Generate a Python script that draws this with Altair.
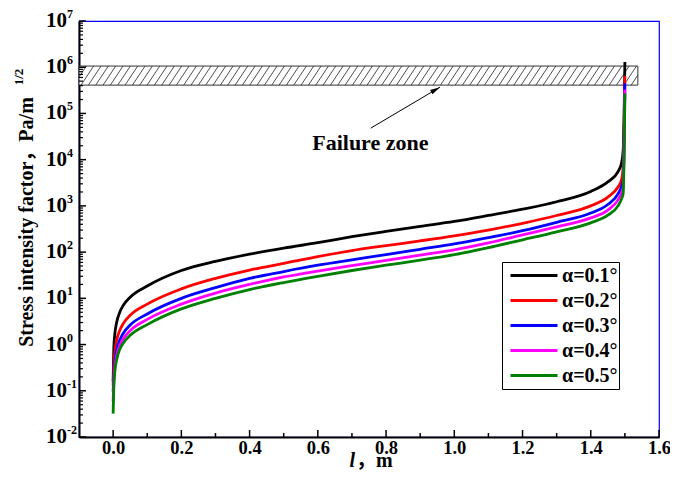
import altair as alt
import pandas as pd
import numpy as np

# ---------------- data ----------------
x_vals = [0.0, 0.002, 0.005, 0.01, 0.02, 0.03, 0.05, 0.1, 0.2, 0.3, 0.4, 0.5, 0.6, 0.7,
          0.8, 0.9, 1.0, 1.1, 1.2, 1.3, 1.4, 1.45, 1.48, 1.49, 1.495, 1.5]
k_01 = [0.16, 0.81, 1.68, 2.93, 5.1, 7.1, 10.6, 18.5, 40, 63, 90, 122, 160, 215, 280, 360,
        460, 620, 850, 1230, 2050, 3300, 5500, 8300, 16000, 1.3e6]
k_02 = [0.13, 0.33, 0.68, 1.19, 2.07, 2.87, 4.3, 7.5, 16, 27, 41, 57, 80, 108, 138, 175,
        225, 300, 420, 620, 1000, 1550, 2570, 3600, 7000, 6.5e5]
k_03 = [0.095, 0.20, 0.42, 0.73, 1.27, 1.76, 2.64, 4.6, 10, 17, 27, 38, 52, 68, 88, 115,
        150, 205, 290, 440, 700, 1070, 1820, 2600, 3600, 4.5e5]
k_04 = [0.058, 0.155, 0.32, 0.56, 0.97, 1.34, 2.0, 3.5, 7.5, 13, 20, 29, 39, 51, 66, 86,
        112, 158, 235, 350, 550, 813, 1350, 1900, 2570, 3.3e5]
k_05 = [0.032, 0.12, 0.26, 0.46, 0.8, 1.08, 1.58, 2.7, 5.9, 10, 15.5, 22, 30, 40, 52, 67,
        88, 125, 185, 275, 430, 631, 1000, 1400, 1860, 2.7e5]

series_labels = ["α=0.1°", "α=0.2°", "α=0.3°", "α=0.4°", "α=0.5°"]
series_colors = ["#000000", "#ff0000", "#0000ff", "#ff00ff", "#008000"]
series_values = [k_01, k_02, k_03, k_04, k_05]

x_ticks_major = [0.0, 0.2, 0.4, 0.6, 0.8, 1.0, 1.2, 1.4, 1.6]
x_ticks_minor = [0.1, 0.3, 0.5, 0.7, 0.9, 1.1, 1.3, 1.5]
y_exponents = [-2, -1, 0, 1, 2, 3, 4, 5, 6, 7]

# failure zone band and annotation
band_x = [-0.1, 1.538]
band_y = [4.1e5, 1.06e6]
arrow_x = [0.755, 0.958]
arrow_y = [4.8e4, 3.7e5]
note_x = [0.754]
note_y = [2.3e4]
note_text = ["Failure zone"]

FONT = "Liberation Serif, Noto Sans CJK SC"
W, H = 580, 416

# ---------------- tables ----------------
rows = []
for lab, vals in zip(series_labels, series_values):
    for xv, yv in zip(x_vals, vals):
        rows.append({"x": xv, "y": yv, "series": lab})
df = pd.DataFrame(rows)

xscale = alt.Scale(domain=[-0.1, 1.6], nice=False, zero=False)
yscale = alt.Scale(type="log", domain=[1e-2, 1e7], nice=False)

# hatch lines inside band (decoration)
step, run = 0.0215, 0.037
ly0, ly1 = np.log10(band_y[0]), np.log10(band_y[1])
hrows = []
xb = band_x[0] - run
while xb < band_x[1]:
    t0 = max(0.0, (band_x[0] - xb) / run)
    t1 = min(1.0, (band_x[1] - xb) / run)
    if t1 > t0:
        hrows.append({"x": xb + t0 * run, "x2": xb + t1 * run,
                      "y": 10 ** (ly0 + t0 * (ly1 - ly0)),
                      "y2": 10 ** (ly0 + t1 * (ly1 - ly0))})
    xb += step
hdf = pd.DataFrame(hrows)

band_df = pd.DataFrame({"x": [band_x[0]], "x2": [band_x[1]], "y": [band_y[0]], "y2": [band_y[1]]})
arrow_df = pd.DataFrame({"x": [arrow_x[0]], "x2": [arrow_x[1]], "y": [arrow_y[0]], "y2": [arrow_y[1]]})
head_df = pd.DataFrame({"x": [arrow_x[1]], "y": [arrow_y[1]]})
note_df = pd.DataFrame({"x": note_x, "y": note_y, "t": note_text})

xt_major = pd.DataFrame({"x": x_ticks_major})
xt_minor = pd.DataFrame({"x": x_ticks_minor})
yt_major = pd.DataFrame({"y": [10.0 ** e for e in y_exponents]})
yt_minor = pd.DataFrame({"y": [k * 10.0 ** e for e in y_exponents[:-1] for k in range(2, 10)]})
ylab = pd.DataFrame({"y": [10.0 ** e for e in y_exponents],
                     "base": ["10"] * len(y_exponents),
                     "exp": [str(e) for e in y_exponents]})

# ---------------- layers ----------------
X = lambda **kw: alt.X("x:Q", scale=xscale, **kw)
Y = lambda **kw: alt.Y("y:Q", scale=yscale, **kw)

band = alt.Chart(band_df).mark_rect(fill="white", stroke="#333333", strokeWidth=1).encode(
    x=X(axis=alt.Axis(values=x_ticks_major, format=".1f", labelFont=FONT, labelFontSize=18.5,
                      labelFontWeight="bold", labelColor="black", ticks=False, title=None,
                      domainColor="black", domainWidth=2, grid=False, labelPadding=1,
                      labelFlush=False, labelOverlap=False)),
    x2="x2:Q",
    y=Y(axis=alt.Axis(labels=False, ticks=False, title=None, domainColor="black",
                      domainWidth=2, grid=False)),
    y2="y2:Q",
)

hatch = alt.Chart(hdf).mark_rule(color="#222222", strokeWidth=0.8).encode(
    x=X(), x2="x2:Q", y=Y(), y2="y2:Q")

arrow = alt.Chart(arrow_df).mark_rule(color="black", strokeWidth=1).encode(
    x=X(), x2="x2:Q", y=Y(), y2="y2:Q")

head = alt.Chart(head_df).mark_point(
    shape="M0,0L0.5,2L-0.5,2Z", filled=True, color="black", size=100, angle=60, opacity=1
).encode(x=X(), y=Y())

note = alt.Chart(note_df).mark_text(font=FONT, fontSize=22, fontWeight="bold",
                                    color="black", align="center", baseline="middle").encode(
    x=X(), y=Y(), text="t:N")

lines = alt.Chart(df).mark_line(strokeWidth=2.8, interpolate="monotone").encode(
    x=X(), y=Y(),
    color=alt.Color("series:N",
                    scale=alt.Scale(domain=series_labels, range=series_colors),
                    legend=alt.Legend(title=None, orient="none", legendX=423, legendY=241,
                                      symbolType="stroke", symbolSize=2209,
                                      symbolStrokeWidth=3, clipHeight=25,
                                      labelFont=FONT, labelFontSize=20,
                                      labelFontWeight="bold", labelColor="black",
                                      labelOffset=3, padding=1, symbolOffset=6,
                                      strokeColor="black", fillColor="white",
                                      rowPadding=0)),
    order=alt.Order("x:Q"),
)

xtM = alt.Chart(xt_major).mark_rule(color="black", strokeWidth=1.5).encode(
    x=X(), y=alt.value(H), y2=alt.value(H - 7))
xtm = alt.Chart(xt_minor).mark_rule(color="black", strokeWidth=1.5).encode(
    x=X(), y=alt.value(H), y2=alt.value(H - 4))
ytM = alt.Chart(yt_major).mark_rule(color="black", strokeWidth=1.5).encode(
    y=Y(), x=alt.value(0), x2=alt.value(7))
ytm = alt.Chart(yt_minor).mark_rule(color="black", strokeWidth=1.2).encode(
    y=Y(), x=alt.value(0), x2=alt.value(4))

ylab_base = alt.Chart(ylab).mark_text(font=FONT, fontSize=21, fontWeight="bold", color="black",
                                      align="right", baseline="middle").encode(
    y=Y(), x=alt.value(-12), text="base:N")
ylab_exp = alt.Chart(ylab).mark_text(font=FONT, fontSize=12, fontWeight="bold", color="black",
                                     align="left", baseline="middle", dy=-7).encode(
    y=Y(), x=alt.value(-12), text="exp:N")

ytitle = alt.Chart(pd.DataFrame({"t": ["Stress intensity factor，Pa/m"]})).mark_text(
    font=FONT, fontSize=20, fontWeight="bold", color="black", angle=270,
    align="center", baseline="middle").encode(
    x=alt.value(-52), y=alt.value(201), text="t:N")
ytitle_sup = alt.Chart(pd.DataFrame({"t": ["1/2"]})).mark_text(
    font=FONT, fontSize=13, fontWeight="bold", color="black", angle=270,
    align="center", baseline="middle").encode(
    x=alt.value(-60), y=alt.value(56), text="t:N")

xtitle_l = alt.Chart(pd.DataFrame({"t": ["l"]})).mark_text(
    font=FONT, fontSize=20, fontWeight="bold", fontStyle="italic", color="black",
    align="right", baseline="alphabetic").encode(x=alt.value(276), y=alt.value(446), text="t:N")
xtitle_m = alt.Chart(pd.DataFrame({"t": ["，m"]})).mark_text(
    font=FONT, fontSize=20, fontWeight="bold", color="black",
    align="left", baseline="alphabetic").encode(x=alt.value(277), y=alt.value(446), text="t:N")

chart = alt.layer(
    band, hatch, arrow, head, note, lines, xtM, xtm, ytM, ytm,
    ylab_base, ylab_exp, ytitle, ytitle_sup, xtitle_l, xtitle_m
).properties(
    width=W, height=H,
    autosize=alt.AutoSizeParams(type="none"),
    padding={"left": 71, "top": 13, "right": 11, "bottom": 35},
    background="white",
).configure_view(stroke="#0000ff", strokeWidth=1.2)

chart.save("out.html", embed_options={"renderer": "svg", "actions": False})
